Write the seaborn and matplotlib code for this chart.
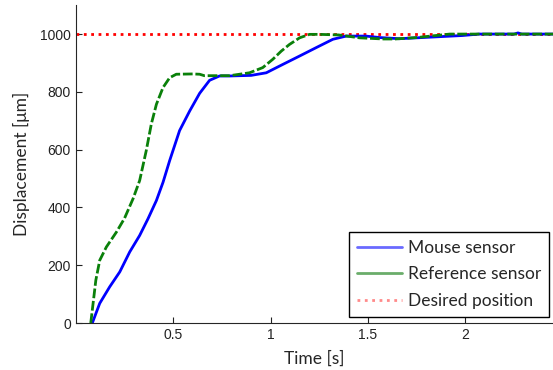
import numpy as np
import pandas as pd
import matplotlib
matplotlib.use('Agg')
import matplotlib.pyplot as plt
from matplotlib.lines import Line2D
import seaborn as sns

# values
mouse_t = [0.085, 0.123, 0.174, 0.226, 0.277, 0.328, 0.371, 0.414, 0.448, 0.482, 0.533,
           0.585, 0.636, 0.687, 0.738, 0.79, 0.90, 0.978, 1.063, 1.149, 1.234, 1.32,
           1.388, 1.49, 1.56, 1.66, 1.75, 1.985, 2.07, 2.25, 2.27, 2.29, 2.45]
mouse_y = [0, 68, 125, 177, 246, 303, 361, 424, 487, 562, 666,
           734, 795, 840, 855, 855, 857, 866, 895, 924, 953, 982,
           993, 993, 988, 984, 987, 995, 1000, 1000, 1004, 1000, 1000]

ref_t = [0.077, 0.089, 0.103, 0.123, 0.157, 0.209, 0.25, 0.294, 0.328, 0.362, 0.388,
         0.414, 0.448, 0.482, 0.516, 0.60, 0.636, 0.66, 0.79, 0.892, 0.96, 1.012,
         1.055, 1.097, 1.149, 1.2, 1.25, 1.35, 1.456, 1.58, 1.64, 1.75, 1.92, 2.45]
ref_y = [0, 68, 148, 217, 263, 315, 362, 430, 493, 597, 689,
         757, 815, 849, 861, 862, 861, 856, 856, 866, 884, 913,
         941, 964, 987, 999, 999, 997, 987, 983, 983, 988, 1000, 1000]

desired_t = [0.0, 2.45]
desired_y = [1000, 1000]

labels = ['Mouse sensor', 'Reference sensor', 'Desired position']

sns.set_style('ticks')
plt.rcParams['font.family'] = ['Liberation Sans', 'DejaVu Sans']
plt.rcParams['xtick.direction'] = 'in'
plt.rcParams['ytick.direction'] = 'in'

fig = plt.figure(figsize=(5.53, 3.70), dpi=100)
ax = fig.add_axes([0.137, 0.127, 0.863, 0.859])

sns.lineplot(x=desired_t, y=desired_y, ax=ax, color='red', linestyle=':', linewidth=2)
sns.lineplot(x=mouse_t, y=mouse_y, ax=ax, color='blue', linewidth=2)
sns.lineplot(x=ref_t, y=ref_y, ax=ax, color='#0a800a', linestyle=(0, (3.5, 1)), linewidth=2)

ax.set_xlim(0, 2.45)
ax.set_ylim(0, 1100)
ax.set_xticks([0.5, 1, 1.5, 2])
ax.set_xticklabels(['0.5', '1', '1.5', '2'])
ax.set_yticks([0, 200, 400, 600, 800, 1000])
ax.tick_params(labelsize=10, length=4, width=0.8, colors='#222222')
sns.despine(ax=ax)

ax.set_xlabel('Time [s]', family=['Lato', 'DejaVu Sans'], fontsize=12.5, labelpad=6)
ax.set_ylabel('Displacement [\u03bcm]', family=['Lato', 'DejaVu Sans'], fontsize=12.5, labelpad=7)

handles = [Line2D([], [], color='#6a6aff', linewidth=2),
           Line2D([], [], color='#6aad6a', linewidth=2),
           Line2D([], [], color='#ff8a8a', linewidth=2, linestyle=':')]
leg = ax.legend(handles, labels, loc='lower right', bbox_to_anchor=(0.992, 0.019),
                borderaxespad=0, prop={'family': 'Lato', 'size': 12.5}, fancybox=False,
                framealpha=1, edgecolor='black', handlelength=2.6, handletextpad=0.35,
                borderpad=0.45, labelspacing=0.62)
leg.get_frame().set_linewidth(1)

plt.savefig('out.png', dpi=100)
